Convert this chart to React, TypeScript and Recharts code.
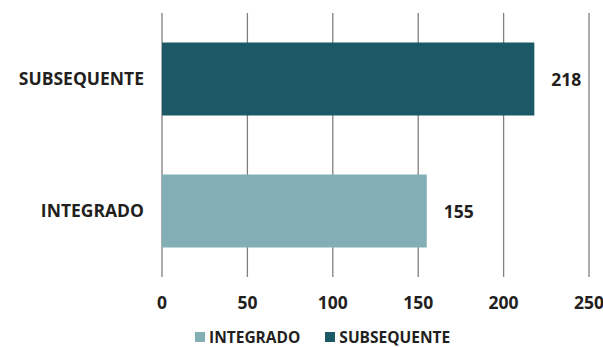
import { BarChart, Bar, XAxis, YAxis, CartesianGrid, Legend, LabelList } from 'recharts'

const categories = ['SUBSEQUENTE', 'INTEGRADO']
const integrado = [null, 155]
const subsequente = [218, null]
const xTicks = [0, 50, 100, 150, 200, 250]

const seriesInfo = [
  { key: 'integrado', label: 'INTEGRADO', color: '#82afb6' },
  { key: 'subsequente', label: 'SUBSEQUENTE', color: '#1b5966' },
]

const data = categories.map((name, i) => ({
  name,
  integrado: integrado[i],
  subsequente: subsequente[i],
}))

const FONT = '"Open Sans", sans-serif'
const TEXT = '#231f20'
const SIZE = 17.5

function ValueLabel(props: any) {
  const { x, y, width, height, value } = props
  if (value == null) return null
  return (
    <text
      x={x + width + 17}
      y={y + height / 2}
      dominantBaseline="central"
      fontFamily={FONT}
      fontWeight={700}
      fontSize={SIZE}
      fill={TEXT}
    >
      {value}
    </text>
  )
}

function LegendRow() {
  return (
    <div style={{ display: 'flex', gap: 25, paddingLeft: 195, paddingTop: 3 }}>
      {seriesInfo.map(s => (
        <div key={s.key} style={{ display: 'flex', alignItems: 'center', gap: 4 }}>
          <span style={{ display: 'inline-block', width: 10, height: 10, background: s.color }} />
          <span style={{ fontFamily: FONT, fontWeight: 700, fontSize: 15.5, color: TEXT, lineHeight: '20px' }}>
            {s.label}
          </span>
        </div>
      ))}
    </div>
  )
}

export default function App() {
  return (
    <div style={{ position: 'absolute', left: 0, top: 0, background: '#fff' }}>
      <BarChart
        width={603}
        height={347}
        data={data}
        layout="vertical"
        margin={{ top: 13, right: 14, left: 0, bottom: 0 }}
        barCategoryGap={29.5}
      >
        <CartesianGrid horizontal={false} stroke="#808080" strokeWidth={1.3} />
        <XAxis
          type="number"
          domain={[0, 250]}
          ticks={xTicks}
          axisLine={false}
          tickLine={false}
          tickSize={0}
          tickMargin={20}
          height={47}
          tick={{ fontFamily: FONT, fontWeight: 700, fontSize: SIZE, fill: TEXT }}
        />
        <YAxis
          type="category"
          dataKey="name"
          width={162}
          axisLine={false}
          tickLine={false}
          tickSize={0}
          tickMargin={18}
          tick={{ fontFamily: FONT, fontWeight: 700, fontSize: SIZE, fill: TEXT }}
        />
        <Legend verticalAlign="bottom" content={() => <LegendRow />} />
        {seriesInfo.map(s => (
          <Bar key={s.key} dataKey={s.key} stackId="a" fill={s.color} isAnimationActive={false}>
            <LabelList dataKey={s.key} content={ValueLabel} />
          </Bar>
        ))}
      </BarChart>
    </div>
  )
}
